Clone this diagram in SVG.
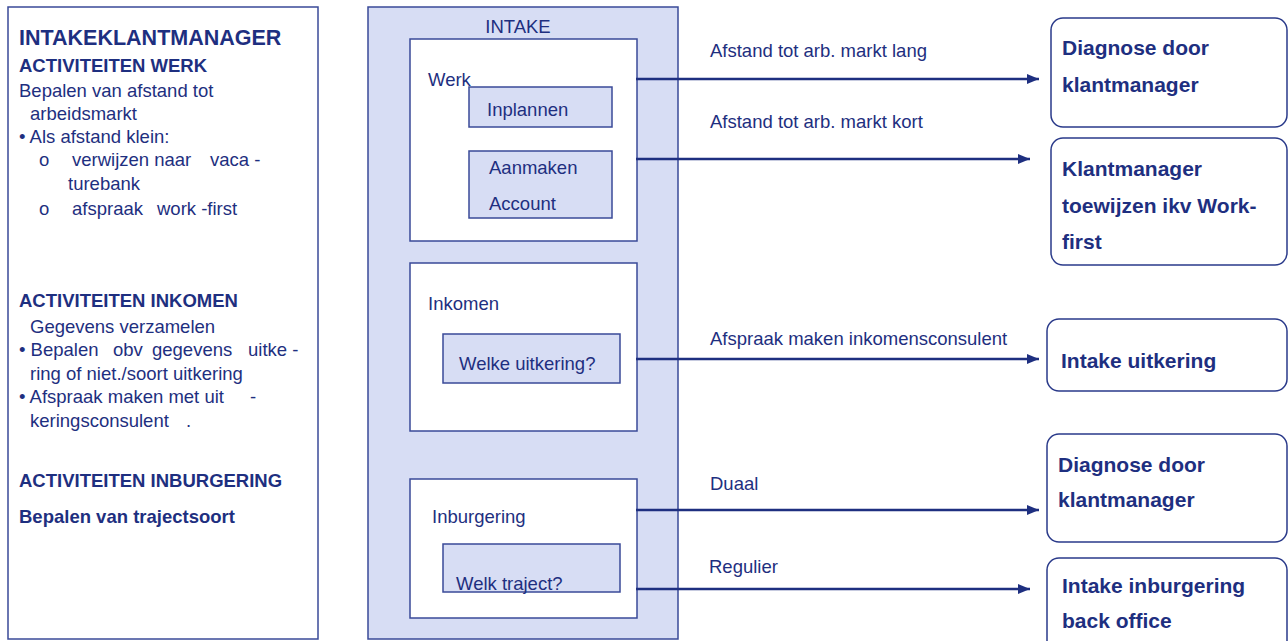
<svg xmlns="http://www.w3.org/2000/svg" width="1288" height="641" viewBox="0 0 1288 641">
  <style>
    text { font-family: "Liberation Sans", Arial, sans-serif; fill: #1E2F80; }
    .r { font-size: 18.5px; }
    .b { font-size: 18.5px; font-weight: bold; }
    .t { font-size: 21.5px; font-weight: bold; }
    .rb { font-size: 21px; font-weight: bold; }
    .panel { fill: #FFFFFF; stroke: #3A4A98; stroke-width: 1.5; }
    .lav { fill: #D7DDF4; stroke: #3A4A98; stroke-width: 1.5; }
    .white { fill: #FFFFFF; stroke: #3A4A98; stroke-width: 1.5; }
    .out { fill: #FFFFFF; stroke: #2A3A8A; stroke-width: 1.5; }
    .conn { stroke: #1E2F80; stroke-width: 2.5; fill: none; marker-end: url(#arrow); }
  </style>
  <defs>
    <marker id="arrow" markerUnits="userSpaceOnUse" markerWidth="14" markerHeight="12" refX="12" refY="5" orient="auto">
      <path d="M0,0 L12,5 L0,10 Z" fill="#1E2F80"/>
    </marker>
  </defs>

  <!-- Left panel: role description -->
  <g id="intakeklantmanager">
    <rect class="panel" x="8" y="7" width="310" height="632"/>
    <text class="t" x="19" y="45">INTAKEKLANTMANAGER</text>
    <text class="b" x="19" y="72">ACTIVITEITEN WERK</text>
    <text class="r" x="19" y="97">Bepalen van afstand tot</text>
    <text class="r" x="30" y="120">arbeidsmarkt</text>
    <text class="r" x="19" y="143">• Als afstand klein:</text>
    <text class="r" x="39" y="166">o</text>
    <text class="r" x="72" y="166">verwijzen naar</text>
    <text class="r" x="210" y="166">vaca -</text>
    <text class="r" x="68" y="190">turebank</text>
    <text class="r" x="39" y="215">o</text>
    <text class="r" x="72" y="215">afspraak</text>
    <text class="r" x="157" y="215">work -first</text>

    <text class="b" x="19" y="307">ACTIVITEITEN INKOMEN</text>
    <text class="r" x="30" y="333">Gegevens verzamelen</text>
    <text class="r" x="19" y="356">• Bepalen</text>
    <text class="r" x="113" y="356">obv</text>
    <text class="r" x="152" y="356">gegevens</text>
    <text class="r" x="248" y="356">uitke -</text>
    <text class="r" x="30" y="380">ring of niet./soort uitkering</text>
    <text class="r" x="19" y="403">• Afspraak maken met uit</text>
    <text class="r" x="250" y="403">-</text>
    <text class="r" x="30" y="427">keringsconsulent</text>
    <text class="r" x="186" y="427">.</text>

    <text class="b" x="19" y="487">ACTIVITEITEN INBURGERING</text>
    <text class="b" x="19" y="523">Bepalen van trajectsoort</text>
  </g>

  <!-- Middle: intake container -->
  <g id="intake">
    <rect class="lav" x="368" y="7" width="310" height="632"/>
    <text class="r" x="518" y="33" text-anchor="middle">INTAKE</text>
  </g>

  <g id="werk">
    <rect class="white" x="410" y="39" width="227" height="202"/>
    <text class="r" x="428" y="86">Werk</text>
    <rect class="lav" x="469" y="87" width="143" height="40"/>
    <text class="r" x="487" y="116">Inplannen</text>
    <rect class="lav" x="469" y="151" width="143" height="67"/>
    <text class="r" x="489" y="174">Aanmaken</text>
    <text class="r" x="489" y="210">Account</text>
  </g>

  <g id="inkomen">
    <rect class="white" x="410" y="263" width="227" height="168"/>
    <text class="r" x="428" y="310">Inkomen</text>
    <rect class="lav" x="443" y="334" width="177" height="49"/>
    <text class="r" x="459" y="370">Welke uitkering?</text>
  </g>

  <g id="inburgering">
    <rect class="white" x="410" y="479" width="227" height="139"/>
    <text class="r" x="432" y="523">Inburgering</text>
    <rect class="lav" x="443" y="544" width="177" height="48"/>
    <text class="r" x="456" y="590">Welk traject?</text>
  </g>

  <!-- Connectors -->
  <g id="connectors">
    <line class="conn" x1="636" y1="79" x2="1039" y2="79"/>
    <text class="r" x="710" y="57">Afstand tot arb. markt lang</text>
    <line class="conn" x1="636" y1="159" x2="1030" y2="159"/>
    <text class="r" x="710" y="128">Afstand tot arb. markt kort</text>
    <line class="conn" x1="636" y1="359" x2="1039" y2="359"/>
    <text class="r" x="710" y="345">Afspraak maken inkomensconsulent</text>
    <line class="conn" x1="636" y1="510" x2="1039" y2="510"/>
    <text class="r" x="710" y="490">Duaal</text>
    <line class="conn" x1="636" y1="589" x2="1030" y2="589"/>
    <text class="r" x="709" y="573">Regulier</text>
  </g>

  <!-- Outcome boxes -->
  <g id="diagnose-werk">
    <rect class="out" x="1051" y="18" width="236" height="109" rx="12"/>
    <text class="rb" x="1062" y="55">Diagnose door</text>
    <text class="rb" x="1062" y="92">klantmanager</text>
  </g>
  <g id="klantmanager-workfirst">
    <rect class="out" x="1051" y="138" width="236" height="127" rx="12"/>
    <text class="rb" x="1062" y="176">Klantmanager</text>
    <text class="rb" x="1062" y="213">toewijzen ikv Work-</text>
    <text class="rb" x="1062" y="249">first</text>
  </g>
  <g id="intake-uitkering">
    <rect class="out" x="1047" y="319" width="240" height="72" rx="12"/>
    <text class="rb" x="1061" y="368">Intake uitkering</text>
  </g>
  <g id="diagnose-inburgering">
    <rect class="out" x="1047" y="434" width="240" height="108" rx="12"/>
    <text class="rb" x="1058" y="472">Diagnose door</text>
    <text class="rb" x="1058" y="507">klantmanager</text>
  </g>
  <g id="intake-inburgering">
    <rect class="out" x="1047" y="558" width="240" height="100" rx="12"/>
    <text class="rb" x="1062" y="593">Intake inburgering</text>
    <text class="rb" x="1062" y="628">back office</text>
  </g>
</svg>
